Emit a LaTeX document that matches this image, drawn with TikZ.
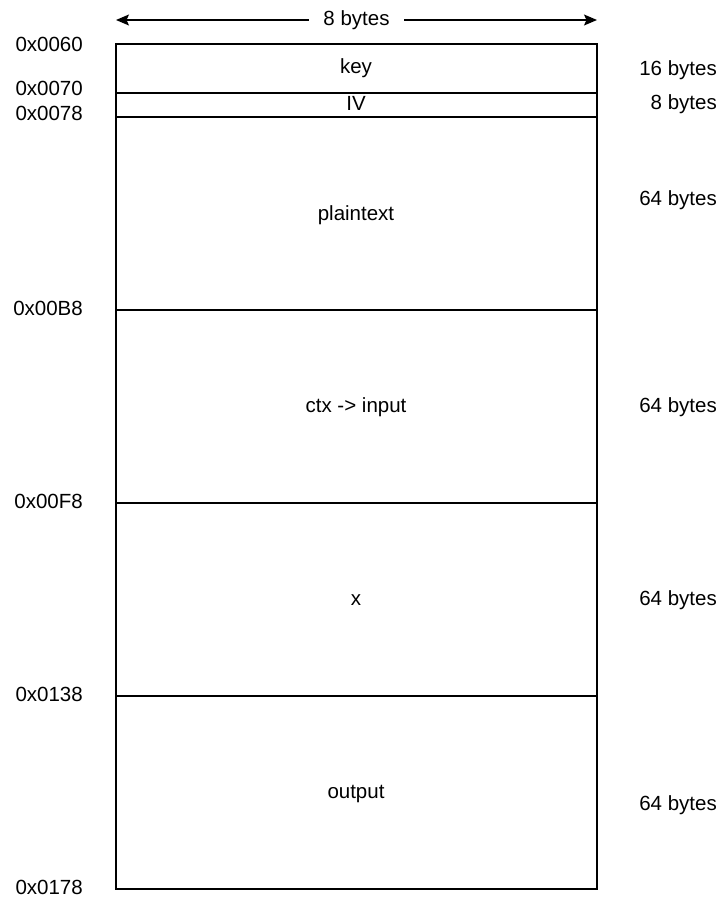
\documentclass[tikz,border=0pt]{standalone}
\usepackage{fontspec}
\setmainfont{Liberation Sans}
\usetikzlibrary{arrows.meta}
\begin{document}
\begin{tikzpicture}[x=1pt,y=-1pt,
  every node/.style={font=\fontsize{20.5}{24}\selectfont, inner sep=0pt},
  region/.style={draw, line width=1.2pt},
  addr/.style={anchor=east},
  size/.style={anchor=east},
  span/.style={line width=1.2pt, {Stealth[length=13pt,width=11pt,inset=2.5pt]}-{Stealth[length=13pt,width=11pt,inset=2.5pt]}}]
\useasboundingbox (0,0) rectangle (719,898);

% memory regions
\draw[region] (116,44) rectangle (597,93);
\draw[region] (116,93) rectangle (597,117);
\draw[region] (116,117) rectangle (597,310);
\draw[region] (116,310) rectangle (597,503);
\draw[region] (116,503) rectangle (597,696);
\draw[region] (116,696) rectangle (597,889);

% region contents
\node (key) at (356,68) {key};
\node (iv) at (356,103) {IV};
\node (pt) at (356,215) {plaintext};
\node (inp) at (356,407) {ctx -> input};
\node (x) at (356,600) {x};
\node (out) at (356,794) {output};

% width indicator
\coordinate (wl) at (116,20);
\coordinate (wr) at (597,20);
\draw[span] (wl) -- node[fill=white, inner xsep=14pt, inner ysep=2pt] (w) {8 bytes} (wr);

% addresses
\node[addr] (a1) at (83,44) {0x0060};
\node[addr] (a2) at (83,88) {0x0070};
\node[addr] (a3) at (83,113) {0x0078};
\node[addr] (a4) at (83,308) {0x00B8};
\node[addr] (a5) at (83,501) {0x00F8};
\node[addr] (a6) at (83,694) {0x0138};
\node[addr] (a7) at (83,887) {0x0178};

% sizes
\node[size] (s1) at (717,70) {16 bytes};
\node[size] (s2) at (717,104) {8 bytes};
\node[size] (s3) at (717,200) {64 bytes};
\node[size] (s4) at (717,407) {64 bytes};
\node[size] (s5) at (717,600) {64 bytes};
\node[size] (s6) at (717,805) {64 bytes};
\end{tikzpicture}
\end{document}
